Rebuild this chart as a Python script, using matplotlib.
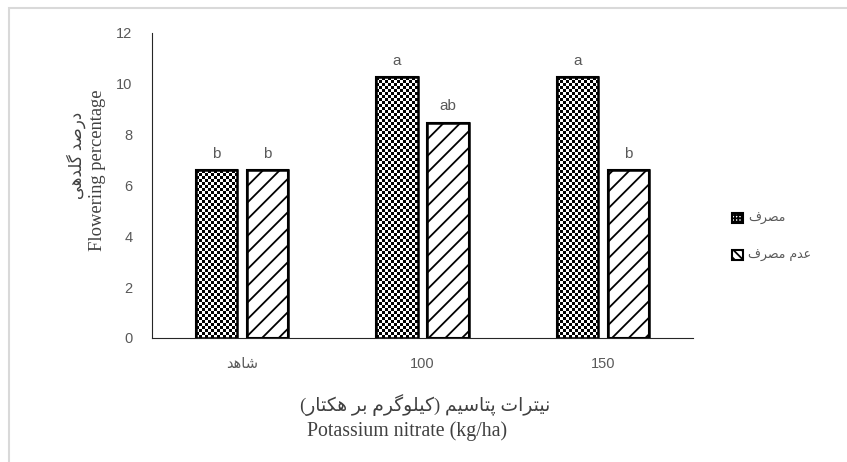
import re
import numpy as np
import matplotlib
matplotlib.use("Agg")
from matplotlib import pyplot as plt
from matplotlib.patches import Rectangle, Patch

# === DATA ===
categories = ["شاهد", "100", "150"]
series_names = ["مصرف", "عدم مصرف"]
used_values = [6.6, 10.25, 10.25]
not_used_values = [6.6, 8.45, 6.6]
used_letters = ["b", "a", "a"]
not_used_letters = ["b", "ab", "b"]
y_ticks = [0, 2, 4, 6, 8, 10, 12]

ylabel_en = "Flowering percentage"
ylabel_fa = "درصد گلدهی"
xlabel_en = "Potassium nitrate (kg/ha)"
xlabel_fa = "نیترات پتاسیم (کیلوگرم بر هکتار)"

# === ARABIC SHAPING (matplotlib has no shaping / bidi) ===
# letter: (isolated, final, initial, medial) or (isolated, final) for right-joining only
FORMS = {
    'ا': (0xFE8D, 0xFE8E),
    'ب': (0xFE8F, 0xFE90, 0xFE91, 0xFE92),
    'پ': (0xFB56, 0xFB57, 0xFB58, 0xFB59),
    'ت': (0xFE95, 0xFE96, 0xFE97, 0xFE98),
    'د': (0xFEA9, 0xFEAA),
    'ر': (0xFEAD, 0xFEAE),
    'س': (0xFEB1, 0xFEB2, 0xFEB3, 0xFEB4),
    'ش': (0xFEB5, 0xFEB6, 0xFEB7, 0xFEB8),
    'ص': (0xFEB9, 0xFEBA, 0xFEBB, 0xFEBC),
    'ع': (0xFEC9, 0xFECA, 0xFECB, 0xFECC),
    'ف': (0xFED1, 0xFED2, 0xFED3, 0xFED4),
    'ک': (0xFB8E, 0xFB8F, 0xFB90, 0xFB91),
    'گ': (0xFB92, 0xFB93, 0xFB94, 0xFB95),
    'ل': (0xFEDD, 0xFEDE, 0xFEDF, 0xFEE0),
    'م': (0xFEE1, 0xFEE2, 0xFEE3, 0xFEE4),
    'ن': (0xFEE5, 0xFEE6, 0xFEE7, 0xFEE8),
    'و': (0xFEED, 0xFEEE),
    'ه': (0xFEE9, 0xFEEA, 0xFEEB, 0xFEEC),
    'ی': (0xFBFC, 0xFBFD, 0xFBFE, 0xFBFF),
}
MIRROR = {"(": ")", ")": "("}
LETTERS = "".join(FORMS.keys())

def shape_run(run):
    out = []
    n = len(run)
    for i, ch in enumerate(run):
        f = FORMS[ch]
        dual = len(f) == 4
        prev_joins = i > 0 and len(FORMS[run[i - 1]]) == 4
        next_ok = dual and i < n - 1
        if prev_joins and next_ok:
            code = f[3]
        elif prev_joins:
            code = f[1]
        elif next_ok:
            code = f[2]
        else:
            code = f[0]
        out.append(chr(code))
    return "".join(out)

# shape in logical order, then flip the whole line for right-to-left display
def fa(text):
    if not re.search("[" + LETTERS + "]", text):
        return text
    shaped = re.sub("[" + LETTERS + "]+", lambda m: shape_run(m.group(0)), text)
    return "".join(MIRROR.get(c, c) for c in shaped[::-1])

# === PLOT ===
tick_color = "#595959"
title_color = "#404040"
plt.rcParams['hatch.linewidth'] = 1.3

fig = plt.figure(figsize=(8.47, 4.62), dpi=100)
ax = fig.add_axes([0.1795, 0.2684, 0.6387, 0.6602])

x = np.arange(len(categories))
w = 0.228
off = 0.1415
b1 = ax.bar(x - off, used_values, w, color="white", edgecolor="black",
            hatch="++++", linewidth=1.5, zorder=2)
b2 = ax.bar(x + off, not_used_values, w, color="white", edgecolor="black",
            hatch="//", linewidth=1.5, zorder=2)

ax.set_xlim(-0.5, 2.5)
ax.set_ylim(0, 12)

# small checkerboard fill for the first series (cells about 3 px)
px_per_x = 0.6387 * 847 / 3.0
px_per_y = 0.6602 * 462 / 12.0
for rect in b1:
    x0 = rect.get_x()
    bw = rect.get_width()
    bh = rect.get_height()
    nx = max(1, int(round(bw * px_per_x / 3)))
    ny = max(1, int(round(bh * px_per_y / 3)))
    checker = (np.indices((ny, nx)).sum(axis=0) % 2).astype(float)
    im = ax.imshow(checker, extent=(x0, x0 + bw, 0, bh), cmap="gray",
                   interpolation="nearest", aspect="auto", zorder=2.5, vmin=0, vmax=1)
    im.set_clip_path(rect)
    ax.add_patch(Rectangle((x0, 0), bw, bh, fill=False, edgecolor="black",
                           linewidth=1.8, zorder=3))
for rect in b2:
    ax.add_patch(Rectangle((rect.get_x(), 0), rect.get_width(), rect.get_height(),
                           fill=False, edgecolor="black", linewidth=1.8, zorder=3))

for bars, letters in [(b1, used_letters), (b2, not_used_letters)]:
    for rect, lt in zip(bars, letters):
        ax.annotate(lt, (rect.get_x() + rect.get_width() / 2, rect.get_height()),
                    xytext=(0, 7), textcoords="offset points", ha="center",
                    va="bottom", fontsize=11, color=tick_color,
                    family="Liberation Sans")

ax.set_yticks(y_ticks)
ax.set_xticks(x)
ax.set_xticklabels([fa(c) for c in categories])
for lab in ax.get_xticklabels() + ax.get_yticklabels():
    lab.set_family(["Liberation Sans", "DejaVu Sans"])
    lab.set_fontsize(10.5)
    lab.set_color(tick_color)
ax.tick_params(axis="y", length=0, pad=14)
ax.tick_params(axis="x", length=0, pad=14)
ax.spines["top"].set_visible(False)
ax.spines["right"].set_visible(False)
ax.spines["left"].set_color("#262626")
ax.spines["bottom"].set_color("#262626")
ax.spines["bottom"].set_zorder(4)

# axis titles
fig.text(97 / 847, 1 - 170 / 462, ylabel_en, rotation=90, ha="center", va="center",
         fontsize=13.3, color=title_color, family="Liberation Serif")
fig.text(76 / 847, 1 - 155 / 462, fa(ylabel_fa), rotation=90, ha="center", va="center",
         fontsize=12, color=title_color, family=["Liberation Serif", "DejaVu Sans"])
fig.text(425 / 847, 1 - 405 / 462, fa(xlabel_fa), ha="center", va="center",
         fontsize=13.5, color=title_color, family=["Liberation Serif", "DejaVu Sans"])
fig.text(407 / 847, 1 - 431 / 462, xlabel_en, ha="center", va="center",
         fontsize=14.3, color=title_color, family="Liberation Serif")

# legend swatches: small dark squares with a fine pattern
handles = [Patch(facecolor="white", edgecolor="black", hatch="+++++", linewidth=1.5),
           Patch(facecolor="white", edgecolor="black", hatch="\\\\\\\\", linewidth=1.5)]
leg = ax.legend(handles, [fa(s) for s in series_names], loc="center left",
                bbox_to_anchor=(721 / 847, 1 - 237 / 462),
                bbox_transform=fig.transFigure, frameon=False,
                labelspacing=1.9, handlelength=0.85, handleheight=0.85,
                handletextpad=0.4, prop={"family": ["DejaVu Sans"], "size": 9})
for t in leg.get_texts():
    t.set_color(tick_color)

# chart area border (runs off the right and bottom edges)
fig.patches.append(Rectangle((9 / 847, -0.1), 1.0, 1.1 - 8 / 462, transform=fig.transFigure,
                             fill=False, edgecolor="#d9d9d9", linewidth=1.5))

fig.savefig("out.png", dpi=100)
